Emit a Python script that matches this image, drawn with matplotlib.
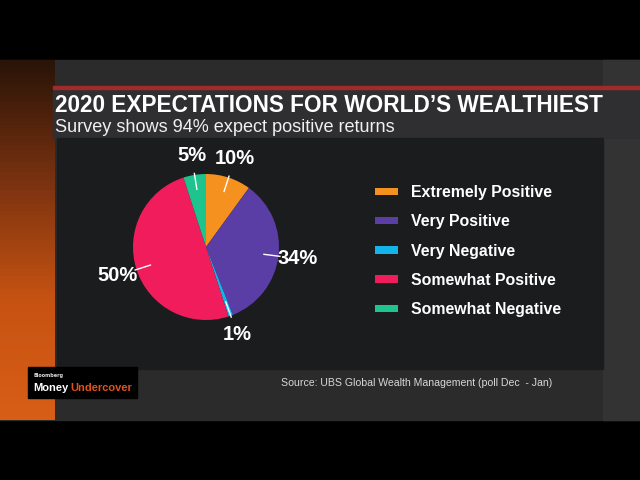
import matplotlib
matplotlib.use("Agg")
import matplotlib.pyplot as plt
import matplotlib.patches as mpatches
import numpy as np

# survey answers, clockwise from 12 o'clock
categories = ["Extremely Positive", "Very Positive", "Very Negative",
              "Somewhat Positive", "Somewhat Negative"]
shares = [10, 34, 1, 50, 5]
colors = ["#f5911e", "#5a3ea6", "#14b4ea", "#f01c5c", "#1ec48e"]

title = "2020 EXPECTATIONS FOR WORLD\u2019S WEALTHIEST"
subtitle = "Survey shows 94% expect positive returns"
source = "Source: UBS Global Wealth Management (poll Dec  - Jan)"

W, H = 640, 480
fig = plt.figure(figsize=(6.4, 4.8), dpi=100)
fig.patch.set_facecolor("black")

# background layer in pixel coordinates
bg = fig.add_axes([0, 0, 1, 1])
bg.set_xlim(0, W)
bg.set_ylim(H, 0)
bg.axis("off")

bg.add_patch(mpatches.Rectangle((0, 60), W, 360, color="#2b2b2c", zorder=0))
# orange studio backdrop on the left
grad = np.linspace(0, 1, 100)[:, None]
cmap = matplotlib.colors.LinearSegmentedColormap.from_list(
    "bk", ["#2a1408", "#7a3210", "#c65212", "#d85e16"])
bg.imshow(grad, extent=(0, 55, 420, 60), aspect="auto", cmap=cmap, zorder=1)
bg.add_patch(mpatches.Rectangle((603, 60), 37, 360, color="#333334", zorder=1))

# title banner
bg.add_patch(mpatches.Rectangle((53, 88), W - 53, 50, color="#2f2f31", zorder=2))
bg.add_patch(mpatches.Rectangle((53, 86), W - 53, 3, color="#a32a2c", zorder=3))
bg.text(55, 112, title, color="white", fontsize=16.3, fontweight="bold",
        family="Liberation Sans", va="baseline", zorder=4)
bg.text(55, 132, subtitle, color="#f0f0f0", fontsize=13.1,
        family="Liberation Sans", va="baseline", zorder=4)

# chart panel
bg.add_patch(mpatches.Rectangle((57, 138), 546, 231, color="#1b1c1e", zorder=2))

# source + logo
bg.text(281, 383, source, color="#d8d8d8", fontsize=7.6,
        family="Liberation Sans", va="center", zorder=4)
bg.add_patch(mpatches.Rectangle((28, 367), 109, 31, color="black", zorder=4))
bg.text(33, 376, "Bloomberg", color="#dddddd", fontsize=3.5,
        fontweight="bold", va="center", zorder=5)
bg.text(33, 391, "Money", color="white", fontsize=8, fontweight="bold",
        family="Liberation Sans", va="baseline", zorder=5)
bg.text(70, 391, "Undercover", color="#e2521c", fontsize=8, fontweight="bold",
        family="Liberation Sans", va="baseline", zorder=5)

# pie
cx, cy, r = 206, 247, 73
ax = fig.add_axes([(cx - r) / W, (H - cy - r) / H, 2 * r / W, 2 * r / H])
wedges, _ = ax.pie(shares, colors=colors, startangle=90, counterclock=False,
                   wedgeprops=dict(linewidth=0))
ax.set_xlim(-1, 1)
ax.set_ylim(-1, 1)
ax.axis("off")

for w, v in zip(wedges, shares):
    ang = np.deg2rad((w.theta1 + w.theta2) / 2)
    c, s = np.cos(ang), np.sin(ang)
    ax.plot([0.8 * c, 1.02 * c], [0.8 * s, 1.02 * s], color="white", lw=1,
            clip_on=False)
    ax.text(1.27 * c, 1.27 * s, f"{v}%", color="white", fontsize=14.5,
            fontweight="bold", family="Liberation Sans", ha="center",
            va="center", clip_on=False)

# legend
leg = fig.legend(wedges, categories, loc="upper left",
                 bbox_to_anchor=(375 / W, 1 - 185 / H), frameon=False,
                 handlelength=1.45, handleheight=0.35, handletextpad=0.85,
                 labelspacing=0.9, borderaxespad=0, borderpad=0,
                 prop=dict(family="Liberation Sans", weight="bold", size=11.4))
for t in leg.get_texts():
    t.set_color("white")

fig.savefig("out.png", dpi=100, facecolor="black")
